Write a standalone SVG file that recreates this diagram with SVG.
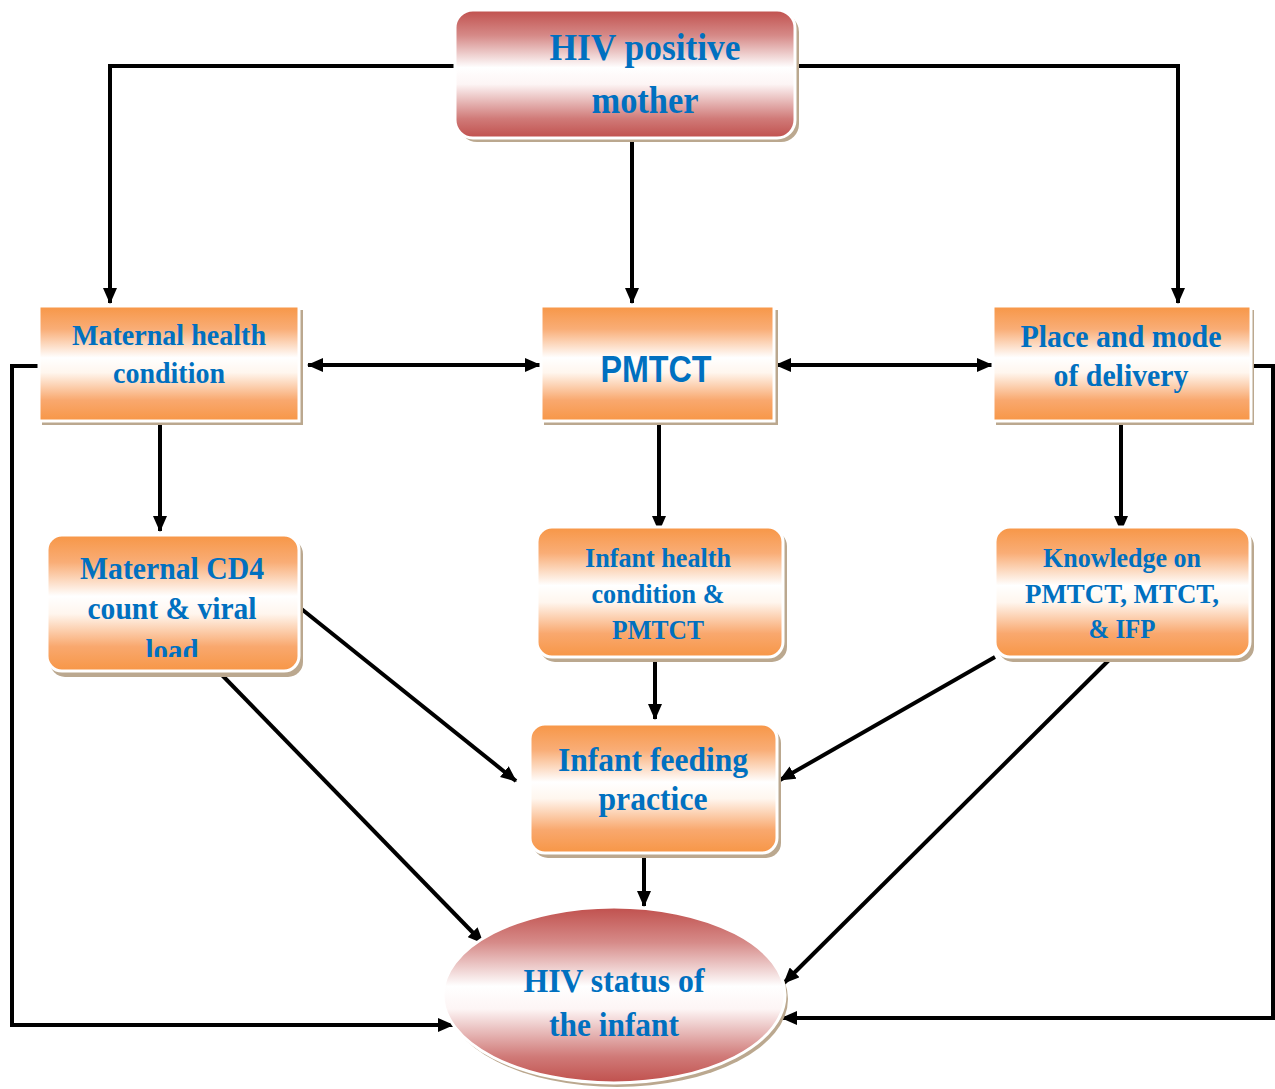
<svg xmlns="http://www.w3.org/2000/svg" width="1275" height="1089" viewBox="0 0 1275 1089">
<defs>
<linearGradient id="gOr" x1="0" y1="0" x2="0" y2="1">
<stop offset="0" stop-color="#f79646"/>
<stop offset="0.2" stop-color="#f9ad76"/>
<stop offset="0.45" stop-color="#ffffff"/>
<stop offset="0.58" stop-color="#fff6ee"/>
<stop offset="0.82" stop-color="#f9a86e"/>
<stop offset="1" stop-color="#f79646"/>
</linearGradient>
<linearGradient id="gRed" x1="0" y1="0" x2="0" y2="1">
<stop offset="0" stop-color="#c0504d"/>
<stop offset="0.2" stop-color="#d68a88"/>
<stop offset="0.45" stop-color="#ffffff"/>
<stop offset="0.58" stop-color="#fdf5f5"/>
<stop offset="0.85" stop-color="#d07a78"/>
<stop offset="1" stop-color="#c0504d"/>
</linearGradient>
<marker id="ah" viewBox="0 0 16 14" refX="15" refY="7" markerWidth="16" markerHeight="14" markerUnits="userSpaceOnUse" orient="auto-start-reverse">
<path d="M0,0 L16,7 L0,14 Z" fill="#000"/>
</marker>
<clipPath id="cd4clip"><rect x="47" y="535" width="252" height="122"/></clipPath>
</defs>
<style>
.sh{fill:#bba88f}
.bx{stroke:#ffffff;stroke-width:3}
.or{fill:url(#gOr)}
.rd{fill:url(#gRed)}
.t{font-family:"Liberation Serif","Times New Roman",serif;font-weight:bold;fill:#0070c0;text-anchor:middle}
.ts{font-family:"Liberation Sans",Arial,sans-serif;font-weight:bold;fill:#0070c0;text-anchor:middle}
.c{fill:none;stroke:#000;stroke-width:4}
</style>
<rect width="1275" height="1089" fill="#ffffff"/>

<g id="connectors">
<polyline class="c" points="455,66 110,66 110,303" marker-end="url(#ah)"/>
<polyline class="c" points="795,66 1178,66 1178,303" marker-end="url(#ah)"/>
<line class="c" x1="632" y1="138" x2="632" y2="303" marker-end="url(#ah)"/>
<line class="c" x1="308" y1="365" x2="540" y2="365" marker-start="url(#ah)" marker-end="url(#ah)"/>
<line class="c" x1="776" y1="365" x2="992" y2="365" marker-start="url(#ah)" marker-end="url(#ah)"/>
<line class="c" x1="160" y1="424" x2="160" y2="531" marker-end="url(#ah)"/>
<line class="c" x1="659" y1="424" x2="659" y2="531" marker-end="url(#ah)"/>
<line class="c" x1="1121" y1="424" x2="1121" y2="531" marker-end="url(#ah)"/>
<line class="c" x1="299" y1="607" x2="516" y2="781" marker-end="url(#ah)"/>
<line class="c" x1="220" y1="673" x2="483" y2="943" marker-end="url(#ah)"/>
<line class="c" x1="655" y1="658" x2="655" y2="719" marker-end="url(#ah)"/>
<line class="c" x1="644" y1="858" x2="644" y2="906" marker-end="url(#ah)"/>
<line class="c" x1="995" y1="657" x2="780" y2="780" marker-end="url(#ah)"/>
<line class="c" x1="1112" y1="657" x2="784" y2="983" marker-end="url(#ah)"/>
<polyline class="c" points="38,366 12,366 12,1025 453,1025" marker-end="url(#ah)"/>
<polyline class="c" points="1252,366 1273,366 1273,1018 782,1018" marker-end="url(#ah)"/>
</g>

<g id="n-mother">
<rect class="sh" x="459" y="14" width="340" height="128" rx="18"/>
<rect class="bx rd" x="455" y="10" width="340" height="128" rx="18"/>
<text class="t" x="645" y="60" font-size="38" textLength="191" lengthAdjust="spacingAndGlyphs">HIV positive</text>
<text class="t" x="645" y="113" font-size="38" textLength="107" lengthAdjust="spacingAndGlyphs">mother</text>
</g>

<g id="n-maternal-health">
<rect class="sh" x="42" y="310" width="261" height="115"/>
<rect class="bx or" x="39" y="306" width="260" height="115"/>
<text class="t" x="169" y="345" font-size="30" textLength="194" lengthAdjust="spacingAndGlyphs">Maternal health</text>
<text class="t" x="169" y="383" font-size="30" textLength="112" lengthAdjust="spacingAndGlyphs">condition</text>
</g>

<g id="n-pmtct">
<rect class="sh" x="544" y="310" width="234" height="115"/>
<rect class="bx or" x="541" y="306" width="233" height="115"/>
<text class="ts" x="656" y="382" font-size="36" textLength="111" lengthAdjust="spacingAndGlyphs">PMTCT</text>
</g>

<g id="n-place">
<rect class="sh" x="996" y="310" width="258" height="115"/>
<rect class="bx or" x="993" y="306" width="258" height="115"/>
<text class="t" x="1121" y="347" font-size="31" textLength="201" lengthAdjust="spacingAndGlyphs">Place and mode</text>
<text class="t" x="1121" y="386" font-size="31" textLength="135" lengthAdjust="spacingAndGlyphs">of delivery</text>
</g>

<g id="n-cd4">
<rect class="sh" x="50" y="539" width="253" height="138" rx="15"/>
<rect class="bx or" x="47" y="535" width="252" height="136" rx="15"/>
<g clip-path="url(#cd4clip)">
<text class="t" x="172" y="579" font-size="31" textLength="184" lengthAdjust="spacingAndGlyphs">Maternal CD4</text>
<text class="t" x="172" y="619" font-size="31" textLength="169" lengthAdjust="spacingAndGlyphs">count &amp; viral</text>
<text class="t" x="172" y="661" font-size="31" textLength="53" lengthAdjust="spacingAndGlyphs">load</text>
</g>
</g>

<g id="n-infant-health">
<rect class="sh" x="540" y="531" width="247" height="131" rx="15"/>
<rect class="bx or" x="537" y="527" width="246" height="130" rx="15"/>
<text class="t" x="658" y="567" font-size="28" textLength="146" lengthAdjust="spacingAndGlyphs">Infant health</text>
<text class="t" x="658" y="603" font-size="28" textLength="133" lengthAdjust="spacingAndGlyphs">condition &amp;</text>
<text class="t" x="658" y="639" font-size="28" textLength="92" lengthAdjust="spacingAndGlyphs">PMTCT</text>
</g>

<g id="n-knowledge">
<rect class="sh" x="998" y="531" width="256" height="131" rx="15"/>
<rect class="bx or" x="995" y="527" width="255" height="130" rx="15"/>
<text class="t" x="1122" y="567" font-size="28" textLength="158" lengthAdjust="spacingAndGlyphs">Knowledge on</text>
<text class="t" x="1122" y="603" font-size="28" textLength="194" lengthAdjust="spacingAndGlyphs">PMTCT, MTCT,</text>
<text class="t" x="1122" y="638" font-size="28" textLength="67" lengthAdjust="spacingAndGlyphs">&amp; IFP</text>
</g>

<g id="n-feeding">
<rect class="sh" x="533" y="728" width="248" height="130" rx="15"/>
<rect class="bx or" x="530" y="724" width="247" height="129" rx="15"/>
<text class="t" x="653" y="771" font-size="33" textLength="190" lengthAdjust="spacingAndGlyphs">Infant feeding</text>
<text class="t" x="653" y="810" font-size="33" textLength="109" lengthAdjust="spacingAndGlyphs">practice</text>
</g>

<g id="n-status">
<ellipse class="sh" cx="617" cy="999" rx="171" ry="88"/>
<ellipse class="bx rd" cx="614" cy="995" rx="171" ry="88"/>
<text class="t" x="614" y="992" font-size="33" textLength="181" lengthAdjust="spacingAndGlyphs">HIV status of</text>
<text class="t" x="614" y="1036" font-size="33" textLength="130" lengthAdjust="spacingAndGlyphs">the infant</text>
</g>
</svg>
